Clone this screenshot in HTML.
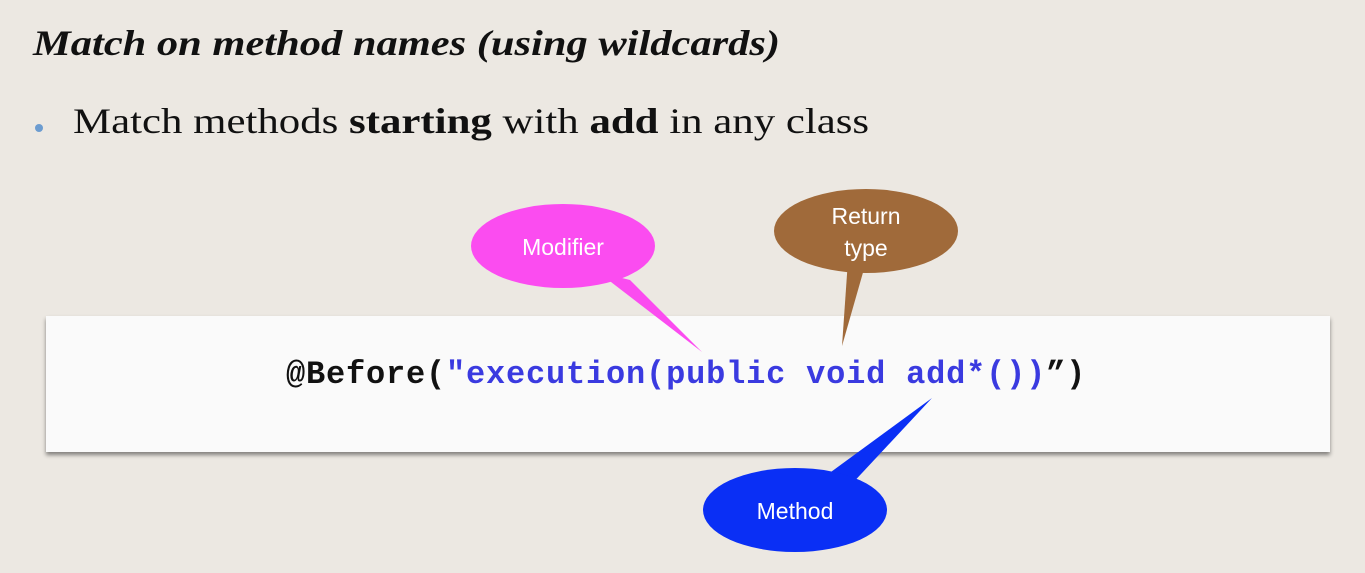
<!DOCTYPE html>
<html><head><style>
body{margin:0;width:1365px;height:573px;overflow:hidden;background:#ece8e2;position:relative;font-family:"Liberation Serif",serif}
.t{position:absolute;left:33px;top:22px;font-size:36px;font-weight:bold;font-style:italic;color:#111;white-space:nowrap;transform-origin:0 0;transform:scaleX(1.18)}
.b{position:absolute;left:73px;top:100px;font-size:36px;color:#111;white-space:nowrap;transform-origin:0 0;transform:scaleX(1.19)}
.dot{position:absolute;left:35px;top:124px;width:8px;height:8px;border-radius:50%;background:#6c9cd0}
.box{position:absolute;left:46px;top:316px;width:1284px;height:136px;background:#fafafa;box-shadow:0 3px 4px rgba(0,0,0,.45)}
.code{position:absolute;left:286px;top:356px;font-family:"Liberation Mono",monospace;font-weight:bold;font-size:32px;letter-spacing:0.8px;white-space:nowrap;color:#111}
.code span{color:#3a3ae0}
svg{position:absolute;left:0;top:0}
</style></head><body>
<div class="t">Match on method names (using wildcards)</div>
<div class="dot"></div>
<div class="b">Match methods <b>starting</b> with <b>add</b> in any class</div>
<div class="box"></div>
<div class="code">@Before(<span>"execution(public void add*())</span>”)</div>
<svg width="1365" height="573" font-family="Liberation Sans, sans-serif">
<polygon points="598,272 630,280 702,352" fill="#fb4cf0"/>
<ellipse cx="563" cy="246" rx="92" ry="42" fill="#fb4cf0"/>
<text x="563" y="255" fill="#fff" font-size="23" text-anchor="middle">Modifier</text>
<polygon points="848,260 866,262 842,346" fill="#a06a3a"/>
<ellipse cx="866" cy="231" rx="92" ry="42" fill="#a06a3a"/>
<text x="866" y="224" fill="#fff" font-size="23" text-anchor="middle">Return</text>
<text x="866" y="256" fill="#fff" font-size="23" text-anchor="middle">type</text>
<polygon points="932,398 820,480 848,488" fill="#0a2ff5"/>
<ellipse cx="795" cy="510" rx="92" ry="42" fill="#0a2ff5"/>
<text x="795" y="519" fill="#fff" font-size="23" text-anchor="middle">Method</text>
</svg>
</body></html>
